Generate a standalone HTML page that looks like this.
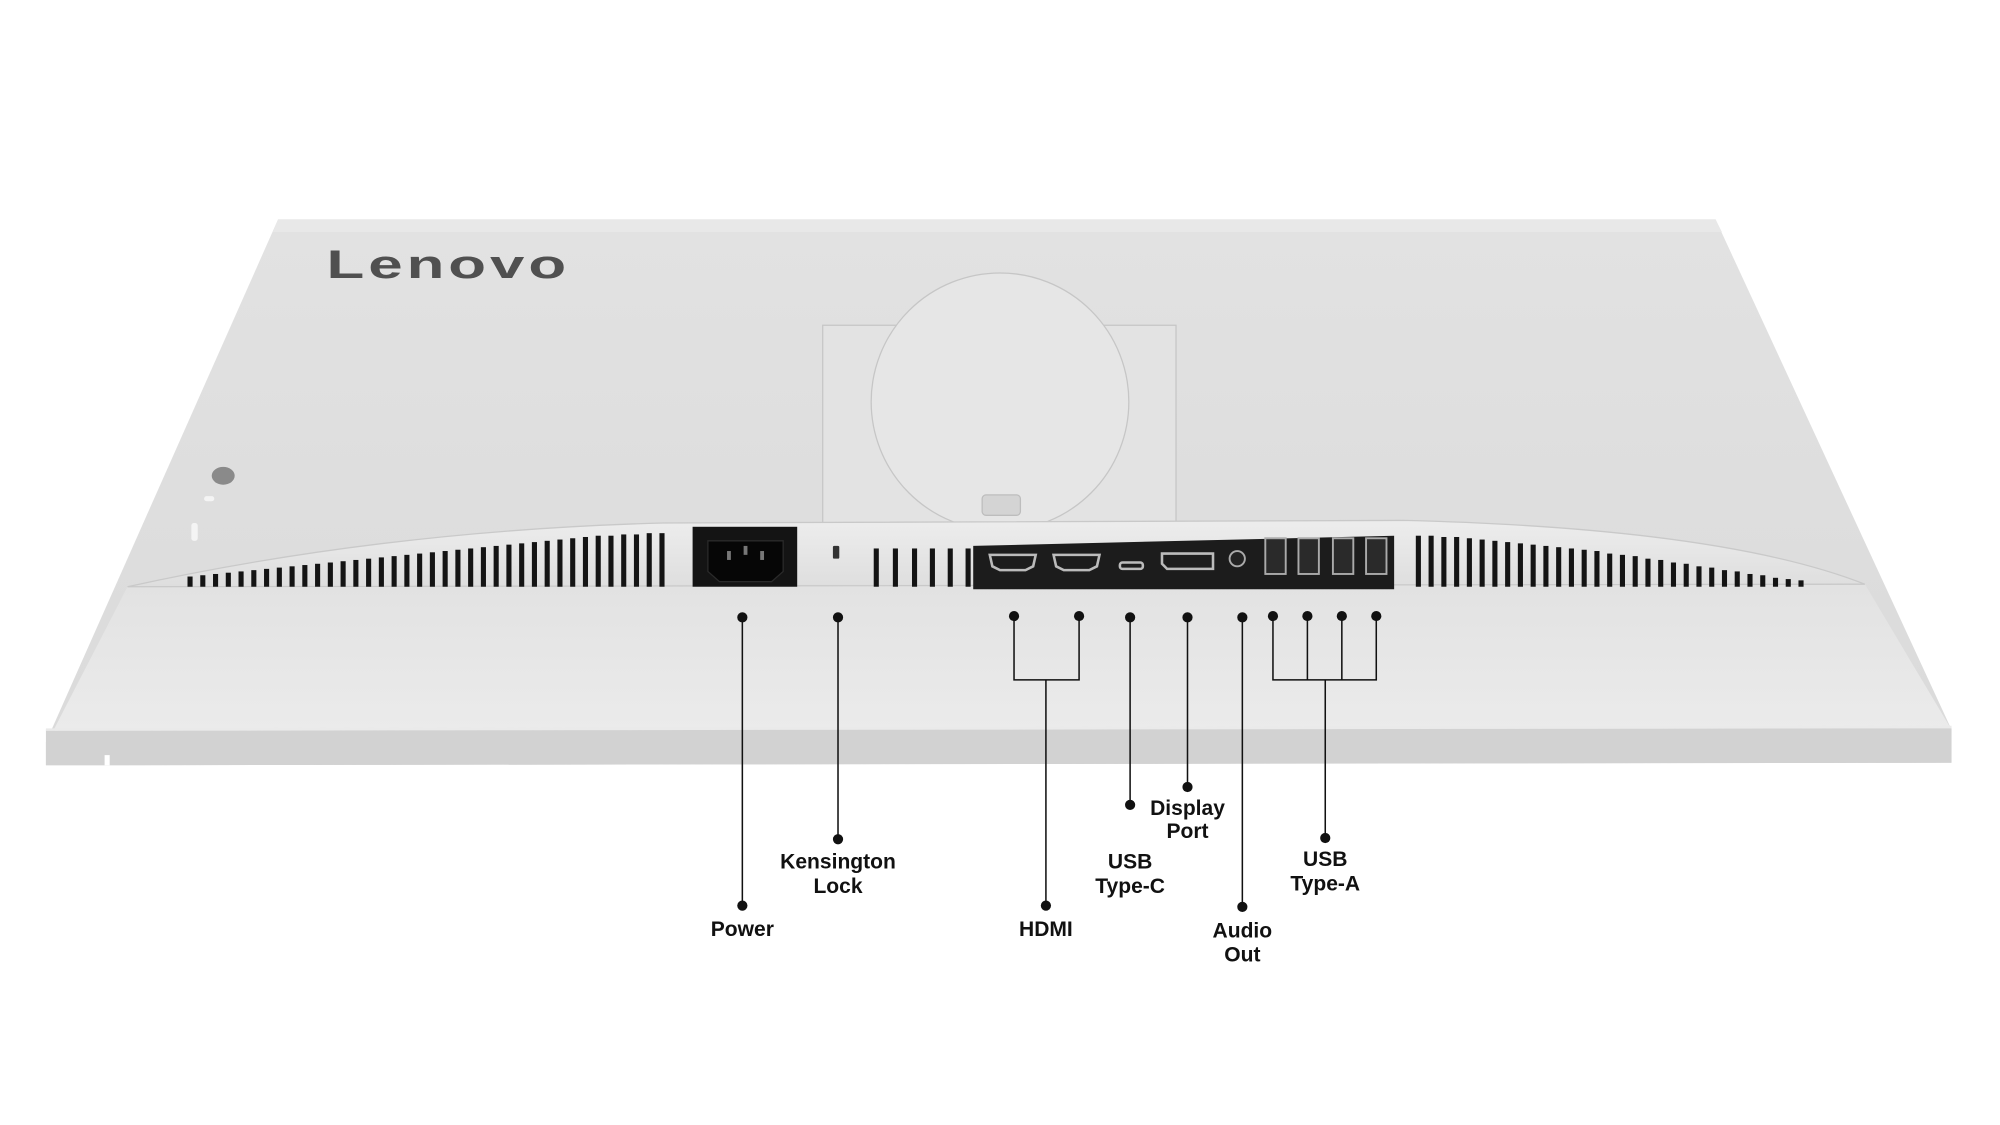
<!DOCTYPE html>
<html><head><meta charset="utf-8"><style>
html,body{margin:0;padding:0;background:#fff;width:2000px;height:1125px;overflow:hidden}
svg{display:block}
text{font-family:"Liberation Sans",sans-serif;font-weight:bold;fill:#111;font-size:16.5px;text-anchor:middle}
</style></head><body>
<svg width="2000" height="1125" viewBox="0 0 1568 882" preserveAspectRatio="none" xmlns="http://www.w3.org/2000/svg">
<defs>
<linearGradient id="top" x1="0" y1="0" x2="0" y2="1">
<stop offset="0" stop-color="#e2e2e2"/><stop offset="1" stop-color="#dadada"/></linearGradient>
<linearGradient id="low" x1="0" y1="0" x2="0" y2="1">
<stop offset="0" stop-color="#e2e2e2"/><stop offset="1" stop-color="#ececec"/></linearGradient>
<linearGradient id="bump" x1="0" y1="0" x2="0" y2="1">
<stop offset="0" stop-color="#ededed"/><stop offset="1" stop-color="#dedede"/></linearGradient>
</defs>
<polygon points="218,172 1345,172 1530,572 1530,598 36,600 36,582" fill="url(#top)"/>
<polygon points="218,172 1345,172 1350,182 214,182" fill="#e8e8e8"/>
<text x="256" y="218" textLength="191" lengthAdjust="spacingAndGlyphs" style="font-size:31px;font-weight:bold;fill:#505050;text-anchor:start;letter-spacing:2px">Lenovo</text>
<rect x="645" y="255" width="277" height="163" fill="#e3e3e3" stroke="#c6c6c6" stroke-width="1"/>
<circle cx="784" cy="315" r="101" fill="#e6e6e6" stroke="#c6c6c6" stroke-width="1"/>
<rect x="770" y="388" width="30" height="16" rx="3" fill="#d4d4d4" stroke="#bdbdbd"/>
<ellipse cx="175" cy="373" rx="9" ry="7" fill="#8a8a8a"/>
<rect x="160" y="389" width="8" height="4" rx="2" fill="#f4f4f4"/>
<rect x="150" y="410" width="5" height="14" rx="2" fill="#f4f4f4"/>
<polygon points="100,460 1462,458 1530,572 36,584" fill="url(#low)"/>
<polygon points="36,572 1530,570 1530,598 36,600" fill="#d2d2d2"/>
<line x1="36" y1="572" x2="1530" y2="570" stroke="#eaeaea" stroke-width="2"/>
<rect x="82" y="592" width="4" height="8" fill="#fff"/>
<path d="M100,460 Q 300,416 520,410 L 1100,408 Q 1350,414 1462,458 Z" fill="url(#bump)" stroke="#c9c9c9" stroke-width="1"/>
<g fill="#141414">
<rect x="147" y="452" width="4" height="8"/><rect x="157" y="451" width="4" height="9"/><rect x="167" y="450" width="4" height="10"/><rect x="177" y="449" width="4" height="11"/><rect x="187" y="448" width="4" height="12"/><rect x="197" y="447" width="4" height="13"/><rect x="207" y="446" width="4" height="14"/><rect x="217" y="445" width="4" height="15"/><rect x="227" y="444" width="4" height="16"/><rect x="237" y="443" width="4" height="17"/><rect x="247" y="442" width="4" height="18"/><rect x="257" y="441" width="4" height="19"/><rect x="267" y="440" width="4" height="20"/><rect x="277" y="439" width="4" height="21"/><rect x="287" y="438" width="4" height="22"/><rect x="297" y="437" width="4" height="23"/><rect x="307" y="436" width="4" height="24"/><rect x="317" y="435" width="4" height="25"/><rect x="327" y="434" width="4" height="26"/><rect x="337" y="433" width="4" height="27"/><rect x="347" y="432" width="4" height="28"/><rect x="357" y="431" width="4" height="29"/><rect x="367" y="430" width="4" height="30"/><rect x="377" y="429" width="4" height="31"/><rect x="387" y="428" width="4" height="32"/><rect x="397" y="427" width="4" height="33"/><rect x="407" y="426" width="4" height="34"/><rect x="417" y="425" width="4" height="35"/><rect x="427" y="424" width="4" height="36"/><rect x="437" y="423" width="4" height="37"/><rect x="447" y="422" width="4" height="38"/><rect x="457" y="421" width="4" height="39"/><rect x="467" y="420" width="4" height="40"/><rect x="477" y="420" width="4" height="40"/><rect x="487" y="419" width="4" height="41"/><rect x="497" y="419" width="4" height="41"/><rect x="507" y="418" width="4" height="42"/><rect x="517" y="418" width="4" height="42"/>
<rect x="1110" y="420" width="4" height="40"/><rect x="1120" y="420" width="4" height="40"/><rect x="1130" y="421" width="4" height="39"/><rect x="1140" y="421" width="4" height="39"/><rect x="1150" y="422" width="4" height="38"/><rect x="1160" y="423" width="4" height="37"/><rect x="1170" y="424" width="4" height="36"/><rect x="1180" y="425" width="4" height="35"/><rect x="1190" y="426" width="4" height="34"/><rect x="1200" y="427" width="4" height="33"/><rect x="1210" y="428" width="4" height="32"/><rect x="1220" y="429" width="4" height="31"/><rect x="1230" y="430" width="4" height="30"/><rect x="1240" y="431" width="4" height="29"/><rect x="1250" y="432" width="4" height="28"/><rect x="1260" y="434" width="4" height="26"/><rect x="1270" y="435" width="4" height="25"/><rect x="1280" y="436" width="4" height="24"/><rect x="1290" y="438" width="4" height="22"/><rect x="1300" y="439" width="4" height="21"/><rect x="1310" y="441" width="4" height="19"/><rect x="1320" y="442" width="4" height="18"/><rect x="1330" y="444" width="4" height="16"/><rect x="1340" y="445" width="4" height="15"/><rect x="1350" y="447" width="4" height="13"/><rect x="1360" y="448" width="4" height="12"/><rect x="1370" y="450" width="4" height="10"/><rect x="1380" y="451" width="4" height="9"/><rect x="1390" y="453" width="4" height="7"/><rect x="1400" y="454" width="4" height="6"/><rect x="1410" y="455" width="4" height="5"/>
<rect x="685" y="430" width="4" height="30"/><rect x="700" y="430" width="4" height="30"/><rect x="715" y="430" width="4" height="30"/><rect x="729" y="430" width="4" height="30"/><rect x="743" y="430" width="4" height="30"/><rect x="757" y="430" width="4" height="30"/>
</g>
<rect x="543" y="413" width="82" height="47" fill="#141414"/>
<path d="M555,424 L614,424 L614,448 L605,456 L564,456 L555,448 Z" fill="#060606" stroke="#2a2a2a"/>
<rect x="570" y="432" width="3" height="7" fill="#777"/><rect x="583" y="428" width="3" height="7" fill="#777"/><rect x="596" y="432" width="3" height="7" fill="#777"/>
<rect x="653" y="428" width="5" height="10" rx="1" fill="#333"/>
<path d="M763,428 L1093,420 L1093,462 L763,462 Z" fill="#1c1c1c"/>
<g fill="none" stroke="#bbb" stroke-width="2">
<path d="M776,435 L812,435 L810,444 L804,447 L784,447 L778,444 Z"/>
<path d="M826,435 L862,435 L860,444 L854,447 L834,447 L828,444 Z"/>
<rect x="878" y="441" width="18" height="5" rx="2"/>
<path d="M911,434 L951,434 L951,446 L915,446 L911,442 Z"/>
</g>
<circle cx="970" cy="438" r="6" fill="#222" stroke="#aaa" stroke-width="1.5"/>
<g fill="#2a2a2a" stroke="#aaa" stroke-width="1.5">
<rect x="992" y="422" width="16" height="28"/><rect x="1018" y="422" width="16" height="28"/><rect x="1045" y="422" width="16" height="28"/><rect x="1071" y="422" width="16" height="28"/>
</g>
<g stroke="#111" stroke-width="1.2" fill="none">
<line x1="582" y1="484" x2="582" y2="710"/>
<line x1="657" y1="484" x2="657" y2="658"/>
<polyline points="795,484 795,533 846,533 846,484"/>
<line x1="820" y1="533" x2="820" y2="710"/>
<line x1="886" y1="484" x2="886" y2="631"/>
<line x1="931" y1="484" x2="931" y2="617"/>
<line x1="974" y1="484" x2="974" y2="711"/>
<polyline points="998,484 998,533 1079,533 1079,484"/>
<line x1="1025" y1="484" x2="1025" y2="533"/>
<line x1="1052" y1="484" x2="1052" y2="533"/>
<line x1="1039" y1="533" x2="1039" y2="657"/>
</g>
<g fill="#111">
<circle cx="582" cy="484" r="4"/><circle cx="657" cy="484" r="4"/><circle cx="795" cy="483" r="4"/><circle cx="846" cy="483" r="4"/><circle cx="886" cy="484" r="4"/><circle cx="931" cy="484" r="4"/><circle cx="974" cy="484" r="4"/><circle cx="998" cy="483" r="4"/><circle cx="1025" cy="483" r="4"/><circle cx="1052" cy="483" r="4"/><circle cx="1079" cy="483" r="4"/>
<circle cx="582" cy="710" r="4"/><circle cx="657" cy="658" r="4"/><circle cx="820" cy="710" r="4"/><circle cx="886" cy="631" r="4"/><circle cx="931" cy="617" r="4"/><circle cx="974" cy="711" r="4"/><circle cx="1039" cy="657" r="4"/>
</g>
<text x="582" y="734">Power</text>
<text x="657" y="681">Kensington</text><text x="657" y="700">Lock</text>
<text x="820" y="734">HDMI</text>
<text x="886" y="681">USB</text><text x="886" y="700">Type-C</text>
<text x="931" y="639">Display</text><text x="931" y="657">Port</text>
<text x="974" y="735">Audio</text><text x="974" y="754">Out</text>
<text x="1039" y="679">USB</text><text x="1039" y="698">Type-A</text>
</svg>
</body></html>
